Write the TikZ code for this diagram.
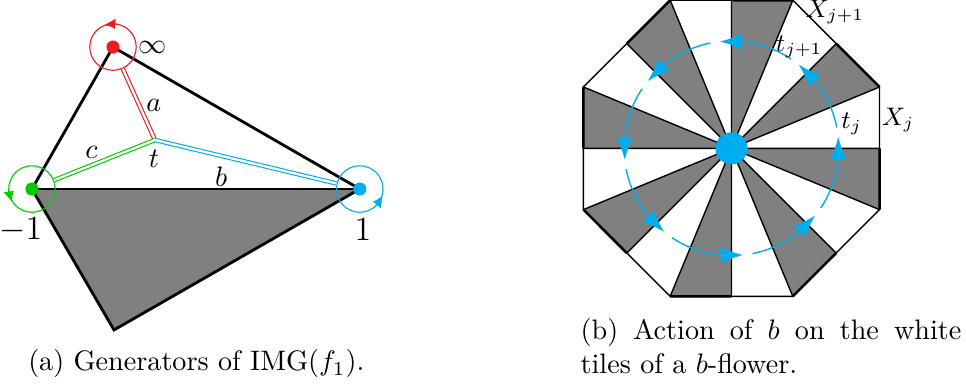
\documentclass[tikz,border=0pt]{standalone}
\usepackage{amsmath,amssymb}
\usetikzlibrary{arrows.meta, positioning, calc, bending}
\definecolor{ared}{RGB}{237, 28, 36}
\definecolor{cgreen}{RGB}{0, 204, 0}
\definecolor{bblue}{RGB}{0, 174, 239}
\definecolor{tile}{RGB}{128, 128, 128}

\begin{document}
\begin{tikzpicture}[
  loop/.style={circle, draw, inner sep=0pt, minimum size=0.58cm, line width=0.4pt},
  gen/.style={double=white, double distance=0.8pt, line width=0.4pt},
  edge/.style={line width=1pt, line join=miter},
  turn/.style={-{Latex[length=1.4mm, width=1.3mm, bend]}, line width=0.4pt},
  spin/.style={bblue, line width=0.5pt, -{Latex[length=2.8mm, width=2mm]}},
  lbl/.style={inner sep=1pt},
  small lbl/.style={inner sep=1pt, font=\small}
]
\useasboundingbox (0,0) rectangle (12.056,-4.83);

% (a) the three generators
\coordinate (inf) at (1.41,-0.587);
\coordinate (m1) at (0.399,-2.359);
\coordinate (p1) at (4.49,-2.359);
\coordinate (bot) at (1.423,-4.118);
\coordinate (t) at (1.934,-1.747);

\fill[tile] (m1) -- (p1) -- (bot) -- cycle;
\draw[line width=0.5pt] (m1) -- (p1);
\draw[edge] (m1) -- (inf) -- (p1);
\draw[edge] (m1) -- (bot) -- (p1);

\node[loop, draw=ared] (infc) at (inf) {};
\node[loop, draw=cgreen] (m1c) at (m1) {};
\node[loop, draw=bblue] (p1c) at (p1) {};
\draw[ared, turn] ([shift={(80:0.29)}]inf) arc[start angle=80, end angle=112, radius=0.29];
\draw[cgreen, turn] ([shift={(182:0.29)}]m1) arc[start angle=182, end angle=214, radius=0.29];
\draw[bblue, turn] ([shift={(-47:0.29)}]p1) arc[start angle=-47, end angle=-15, radius=0.29];

\draw[gen, ared] (infc) -- (t);
\draw[gen, cgreen] (m1c) -- (t);
\draw[gen, bblue] (p1c) -- (t);

\fill[ared] (inf) circle (0.082);
\fill[cgreen] (m1) circle (0.082);
\fill[bblue] (p1) circle (0.082);

\node[lbl] (linf) at (1.91,-0.59) {$\infty$};
\node[lbl] (la) at (1.92,-1.32) {$a$};
\node[lbl] (lc) at (1.14,-1.90) {$c$};
\node[lbl] (lt) at (1.92,-1.98) {$t$};
\node[lbl] (lb) at (2.76,-2.20) {$b$};
\node[lbl, font=\large] (lm1) at (0.26,-2.87) {$-1$};
\node[lbl, font=\large] (lp1) at (4.53,-2.87) {$1$};

\node[anchor=base] (capa) at (2.45,-4.63) {(a) Generators of $\mathrm{IMG}(f_1)$.};

% (b) the b-flower
\begin{scope}[shift={(9.129,-1.851)}]
\coordinate (c) at (0,0);
\foreach \k in {0,...,7} {
  \fill[tile] (c) -- (22.5+45*\k:2) -- (45+45*\k:1.848) -- cycle;
  \draw[line width=0.9pt] (22.5+45*\k:2) -- (45+45*\k:1.848);
}
\foreach \k in {0,...,7}
  \draw[line width=0.5pt] (c) -- (22.5+45*\k:2) (c) -- (45*\k:1.848);
\draw[line width=0.5pt] (22.5:2) \foreach \k in {1,...,7} { -- (22.5+45*\k:2) } -- cycle;
\node[circle, fill=bblue, inner sep=0pt, minimum size=0.4cm] (hub) at (c) {};

\foreach \k [evaluate=\k as \a using 11.25+45*\k] in {0,...,7}
  \draw[spin] (\a:1.34) arc[start angle=\a, end angle=\a+40, radius=1.34];

\node[small lbl] (tj) at (11.6:1.53) {$t_j$};
\node[small lbl] (tjj) at (56.25:1.52) {$t_{j+1}$};
\node[small lbl] (xj) at (2.08,0.35) {$X_j$};
\node[small lbl] (xjj) at (1.29,1.70) {$X_{j+1}$};
\end{scope}

\node[anchor=north west, text width=4.751cm, align=justify, inner sep=0pt] (capb) at (7.24,-3.967)
  {(b) Action of $b$ on the white tiles of a $b$-flower.};
\end{tikzpicture}
\end{document}
